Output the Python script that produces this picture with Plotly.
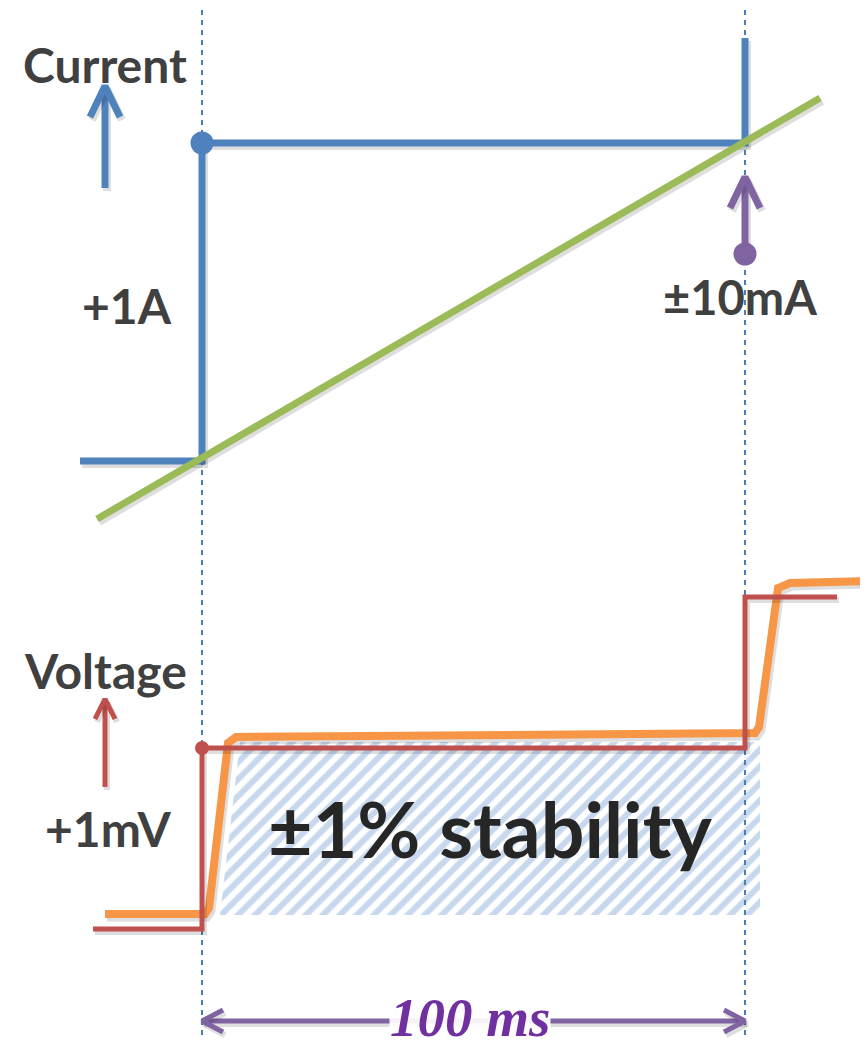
import plotly.graph_objects as go

# ---- data (diagram coordinates, 0..868 x 0..1040, y downward) ----
event_x = [202, 745]                      # dashed time markers
current_x = [80, 202, 202, 745, 745]      # current step
current_y = [461, 461, 143, 143, 38]
ramp_x = [97, 820]                        # green ramp
ramp_y = [519, 98]
voltage_x = [93, 202, 202, 745, 745, 837] # red voltage step
voltage_y = [929, 929, 748, 748, 597, 597]
response_x = [105, 205, 209, 228, 236, 745, 755, 759, 778, 790, 868]  # orange response
response_y = [914, 914, 908, 743, 737, 733, 733, 727, 588, 583, 581]
band_x = [220, 240, 760, 760, 220]        # stability band
band_y = [915, 742, 742, 915, 915]

labels = ["Current", "+1A", "±10mA", "Voltage", "+1mV", "±1% stability", "100 ms"]

BLUE = "#4f81bd"; GREEN = "#9bbb59"; PURPLE = "#8064a2"
RED = "#c0504d"; ORANGE = "#f79646"; GREY = "#404040"

PAGE_MARGIN = 8   # browser body margin around the plot div

fig = go.Figure()

def line(x, y, color, width, shadow=True):
    if shadow:
        fig.add_trace(go.Scatter(x=[v + 2 for v in x], y=[v + 3 for v in y], mode="lines",
                                 line=dict(color="rgba(0,0,0,0.13)", width=width + 1),
                                 hoverinfo="skip", showlegend=False))
    fig.add_trace(go.Scatter(x=x, y=y, mode="lines", line=dict(color=color, width=width),
                             hoverinfo="skip", showlegend=False))

def arrow(x, y_tail, y_tip, dx, dy, color, width):
    line([x, x], [y_tail, y_tip], color, width)
    line([x - dx, x, x + dx], [y_tip + dy, y_tip, y_tip + dy], color, width)

# stability band (hatched)
fig.add_trace(go.Scatter(x=band_x, y=band_y, mode="lines", fill="toself",
                         line=dict(width=0, color="rgba(0,0,0,0)"),
                         fillcolor="rgba(0,0,0,0)",
                         fillpattern=dict(shape="/", fgcolor="#8fb2dc", bgcolor="white",
                                          size=12, solidity=0.5),
                         hoverinfo="skip", showlegend=False))

# dashed event lines
for ex in event_x:
    fig.add_trace(go.Scatter(x=[ex, ex], y=[0, 1040], mode="lines",
                             line=dict(color="#4a7ebb", width=2, dash="5px,5px"),
                             hoverinfo="skip", showlegend=False))

# current section
line(current_x, current_y, BLUE, 7)
line(ramp_x, ramp_y, GREEN, 7)
fig.add_trace(go.Scatter(x=[current_x[2]], y=[current_y[2]], mode="markers",
                         marker=dict(color=BLUE, size=23), hoverinfo="skip", showlegend=False))
arrow(105, 188, 86, 15, 31, BLUE, 7)
arrow(745, 254, 177, 15, 31, PURPLE, 7)
fig.add_trace(go.Scatter(x=[745], y=[254], mode="markers",
                         marker=dict(color=PURPLE, size=23), hoverinfo="skip", showlegend=False))

# voltage section
line(response_x, response_y, ORANGE, 8)
line(voltage_x, voltage_y, RED, 5)
fig.add_trace(go.Scatter(x=[voltage_x[2]], y=[voltage_y[2]], mode="markers",
                         marker=dict(color=RED, size=14), hoverinfo="skip", showlegend=False))
arrow(105, 787, 699, 10, 20, RED, 5)

# bottom double arrow
line([event_x[0], event_x[1]], [1021, 1021], PURPLE, 5)
line([event_x[0] + 21, event_x[0], event_x[0] + 21], [1010, 1021, 1032], PURPLE, 5)
line([event_x[1] - 21, event_x[1], event_x[1] - 21], [1010, 1021, 1032], PURPLE, 5)

bold = dict(family="Lato, 'Open Sans', sans-serif", color=GREY)
texts = [
    (labels[0], 105, 64, 48),
    (labels[1], 127, 305, 48),
    (labels[2], 740, 297, 47),
    (labels[3], 105, 670, 48),
    (labels[4], 108, 828, 48),
]
for t, x, y, s in texts:
    fig.add_annotation(x=x, y=y, text="<b>" + t + "</b>", showarrow=False,
                       font=dict(size=s, **bold), xanchor="center", yanchor="middle")

fig.add_annotation(x=490, y=828, text="<b>" + labels[5] + "</b>", showarrow=False,
                   font=dict(size=77, family="Lato, 'Open Sans', sans-serif", color="#262626"),
                   xanchor="center", yanchor="middle")
fig.add_annotation(x=470, y=1017, text="<b><i>" + labels[6] + "</i></b>", showarrow=False,
                   font=dict(size=55, family="'Liberation Serif', serif", color="#7030a0"),
                   bgcolor="rgba(255,255,255,0.92)", borderpad=0,
                   xanchor="center", yanchor="middle")

W, H = 868, 1040
fig.update_layout(width=W - PAGE_MARGIN, height=H - PAGE_MARGIN, autosize=False,
                  margin=dict(l=0, r=0, t=0, b=0),
                  paper_bgcolor="white", plot_bgcolor="white",
                  xaxis=dict(range=[PAGE_MARGIN, W], visible=False, fixedrange=True),
                  yaxis=dict(range=[H, PAGE_MARGIN], visible=False, fixedrange=True),
                  showlegend=False)

fig.write_html("out.html")
